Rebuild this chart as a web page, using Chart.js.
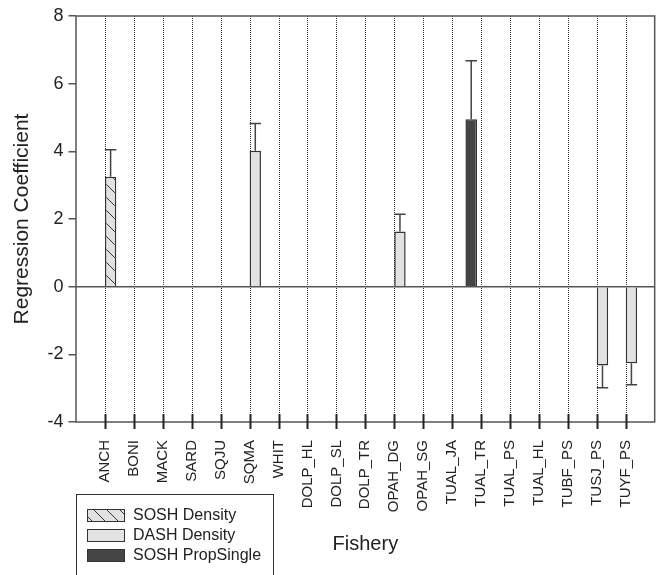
<!DOCTYPE html>
<html><head><meta charset="utf-8">
<script src="https://cdn.jsdelivr.net/npm/chart.js@4"></script>
<style>html,body{margin:0;padding:0;background:#fff}#wrap{width:662px;height:575px;position:relative}</style>
</head><body><div id="wrap"><canvas id="c"></canvas></div>
<script>
const fisheries = ['ANCH','BONI','MACK','SARD','SQJU','SQMA','WHIT','DOLP_HL','DOLP_SL','DOLP_TR','OPAH_DG','OPAH_SG','TUAL_JA','TUAL_TR','TUAL_PS','TUAL_HL','TUBF_PS','TUSJ_PS','TUYF_PS'];
const soshDensity    = [3.25,null,null,null,null,null,null,null,null,null,null,null,null,null,null,null,null,null,null];
const soshDensityErr = [0.80,null,null,null,null,null,null,null,null,null,null,null,null,null,null,null,null,null,null];
const dashDensity    = [null,null,null,null,null,4.02,null,null,null,null,1.63,null,null,null,null,null,null,-2.33,-2.26];
const dashDensityErr = [null,null,null,null,null,0.80,null,null,null,null,0.51,null,null,null,null,null,null,0.66,0.64];
const soshPropSingle    = [null,null,null,null,null,null,null,null,null,null,null,null,null,4.95,null,null,null,null,null];
const soshPropSingleErr = [null,null,null,null,null,null,null,null,null,null,null,null,null,1.73,null,null,null,null,null];
const yTicks = [-4,-2,0,2,4,6,8];

const FONT = "'Liberation Sans', Arial, Helvetica, sans-serif";

function hatch() {
  const s = 13, c = document.createElement('canvas');
  c.width = s; c.height = s;
  const g = c.getContext('2d');
  g.fillStyle = '#e2e2e2'; g.fillRect(0,0,s,s);
  g.strokeStyle = '#333'; g.lineWidth = 1;
  g.beginPath();
  g.moveTo(-1,-1); g.lineTo(s+1,s+1);
  g.moveTo(-s-1,-1); g.lineTo(1,s+1);
  g.moveTo(s-1,-1); g.lineTo(2*s+1,s+1);
  g.stroke();
  return g.createPattern(c,'repeat');
}
const hatchPattern = hatch();

const pts = arr => fisheries.map((f,i) => ({x:i, y:arr[i]}));

const guides = {
  id:'guides',
  beforeDatasetsDraw(chart){
    const {ctx, chartArea:a, scales:{x,y}} = chart;
    ctx.save();
    ctx.strokeStyle = '#333'; ctx.lineWidth = 1; ctx.setLineDash([1,1]);
    fisheries.forEach((f,i)=>{
      const px = Math.round(x.getPixelForValue(i)) + 0.5;
      ctx.beginPath(); ctx.moveTo(px, a.top); ctx.lineTo(px, a.bottom); ctx.stroke();
    });
    ctx.setLineDash([]);
    ctx.strokeStyle = '#555'; ctx.lineWidth = 1.5;
    const zy = y.getPixelForValue(0);
    ctx.beginPath(); ctx.moveTo(a.left, zy); ctx.lineTo(a.right, zy); ctx.stroke();
    ctx.restore();
  },
  afterDatasetsDraw(chart){
    const {ctx, chartArea:a, scales:{x,y}} = chart;
    ctx.save();
    ctx.strokeStyle = '#444'; ctx.lineWidth = 1.5;
    chart.data.datasets.forEach((ds,di)=>{
      const meta = chart.getDatasetMeta(di);
      ds.errors.forEach((e,i)=>{
        const v = ds.data[i].y;
        if (e == null || v == null) return;
        const bar = meta.data[i];
        const {x:bx, y:by, width:w} = bar.getProps(['x','y','width'], true);
        const py = y.getPixelForValue(v >= 0 ? v + e : v - e);
        ctx.beginPath();
        ctx.moveTo(bx, by); ctx.lineTo(bx, py);
        ctx.moveTo(bx - w/2, py); ctx.lineTo(bx + w/2, py);
        ctx.stroke();
      });
    });
    ctx.strokeStyle = '#555'; ctx.lineWidth = 1.5;
    ctx.strokeRect(a.left, a.top, a.right - a.left, a.bottom - a.top);
    ctx.strokeStyle = '#222'; ctx.lineWidth = 2;
    fisheries.forEach((f,i)=>{
      const px = Math.round(x.getPixelForValue(i)) + 0.5;
      ctx.beginPath(); ctx.moveTo(px, a.bottom - 8); ctx.lineTo(px, a.bottom + 7); ctx.stroke();
    });
    ctx.restore();
  },
  afterDraw(chart){
    const ctx = chart.ctx;
    ctx.save();
    ctx.fillStyle = '#fff'; ctx.strokeStyle = '#333'; ctx.lineWidth = 1;
    ctx.fillRect(76.5, 494.5, 197, 100);
    ctx.strokeRect(76.5, 494.5, 197, 100);
    const order = [1,2,0];
    order.forEach((di,k)=>{
      const ds = chart.data.datasets[di];
      const top = 509 + k*20;
      ctx.fillStyle = ds.backgroundColor;
      ctx.fillRect(87.5, top + 0.5, 37, 12);
      ctx.strokeStyle = '#333'; ctx.lineWidth = 1;
      ctx.strokeRect(87.5, top + 0.5, 37, 12);
      ctx.fillStyle = '#222';
      ctx.font = '16px ' + FONT;
      ctx.textBaseline = 'middle'; ctx.textAlign = 'left';
      ctx.fillText(ds.label, 133, top + 7);
    });
    ctx.restore();
  }
};

new Chart(document.getElementById('c'), {
  type:'bar',
  data:{
    datasets:[
      {label:'SOSH PropSingle', data:pts(soshPropSingle), errors:soshPropSingleErr, stack:'p', order:0,
       backgroundColor:'#454545', borderColor:'#333', borderWidth:1.5, categoryPercentage:1.363, barPercentage:0.586},
      {label:'SOSH Density', data:pts(soshDensity), errors:soshDensityErr, stack:'d', order:1,
       backgroundColor:hatchPattern, borderColor:'#333', borderWidth:1.5, categoryPercentage:0.785, barPercentage:1.0},
      {label:'DASH Density', data:pts(dashDensity), errors:dashDensityErr, stack:'d', order:1,
       backgroundColor:'#e2e2e2', borderColor:'#333', borderWidth:1.5, categoryPercentage:0.785, barPercentage:1.0}
    ]
  },
  options:{
    responsive:true, maintainAspectRatio:false, animation:false,
    layout:{padding:{top:16, right:5, left:0, bottom:0}},
    plugins:{legend:{display:false}, tooltip:{enabled:false}},
    scales:{
      x:{
        type:'linear', min:-1, max:19, offset:false,
        grid:{display:false, drawTicks:false}, border:{display:false},
        afterBuildTicks: s => { s.ticks = fisheries.map((f,i)=>({value:i})); },
        afterFit: s => { s.height = 153; },
        ticks:{autoSkip:false, minRotation:90, maxRotation:90, padding:18, color:'#222',
               font:{family:FONT, size:15}, callback: v => fisheries[v] ?? ''},
        title:{display:true, text:'Fishery', color:'#222', font:{family:FONT, size:20}, padding:{top:0, bottom:19}}
      },
      y:{
        min:-4, max:8,
        afterBuildTicks: s => { s.ticks = yTicks.map(v=>({value:v})); },
        afterFit: s => { s.width = 76; },
        grid:{drawOnChartArea:false, drawTicks:true, tickLength:7.5, color:'#555', lineWidth:1.5},
        border:{display:false},
        ticks:{padding:5, color:'#222', font:{family:FONT, size:18}},
        title:{display:true, text:'Regression Coefficient', color:'#222', font:{family:FONT, size:21}, padding:{top:10, bottom:0}}
      }
    }
  },
  plugins:[guides]
});
</script>
</body></html>
